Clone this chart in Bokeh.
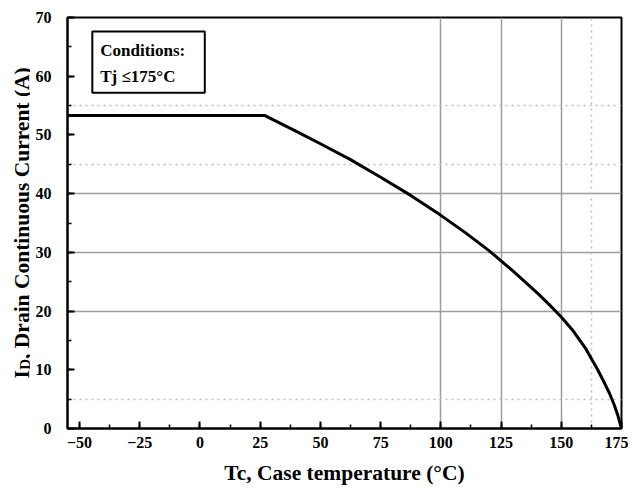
import math
from bokeh.plotting import figure
from bokeh.layouts import row
from bokeh.models import Range1d, SingleIntervalTicker, FixedTicker, Grid, Label, BoxAnnotation
from bokeh.embed import file_html
from bokeh.resources import INLINE

# Data
temp_c = [-55, 27, 40, 50, 62.5, 75, 87.5, 100, 110, 120, 130, 140, 145, 150,
          155, 160, 165, 168, 170, 172, 173.5, 175]
drain_current_a = [53.3, 53.3, 50.6, 48.5, 45.8, 42.8, 39.7, 36.3, 33.4, 30.3, 26.8, 23.1, 21.1, 19.0,
                   16.6, 13.7, 10.1, 7.7, 6.0, 4.0, 2.2, 0.0]

grid_solid_x = [100, 125, 150]
grid_dot_x = [162.5]
grid_solid_y = [20, 30, 40]
grid_dot_y = [5, 45, 55]

x_label = "Tc, Case temperature (\u00b0C)"
y_label_main = "I"
y_label_sub = "D"
y_label_rest = ", Drain Continuous Current (A)"
cond_line1 = "Conditions:"
cond_line2 = "Tj \u2264175\u00b0C"

FONT = "Liberation Serif"
H = 487

p = figure(width=598, height=H, output_backend="svg", toolbar_location=None,
           x_range=Range1d(-55, 175), y_range=Range1d(0, 70),
           min_border_left=37, min_border_right=7, min_border_top=17, min_border_bottom=59)
p.background_fill_color = "white"
p.border_fill_color = "white"
p.outline_line_color = "black"
p.outline_line_width = 2

for ax, interval, standoff in ((p.xaxis[0], 25, 8), (p.yaxis[0], 10, 16)):
    ax.ticker = SingleIntervalTicker(interval=interval, num_minor_ticks=2)
    ax.axis_line_color = "black"
    ax.axis_line_width = 2
    ax.major_tick_in = 7
    ax.major_tick_out = 0
    ax.minor_tick_in = 4
    ax.minor_tick_out = 0
    ax.major_tick_line_color = "black"
    ax.major_tick_line_width = 2
    ax.minor_tick_line_color = "black"
    ax.minor_tick_line_width = 1.5
    ax.major_label_text_font = FONT
    ax.major_label_text_font_style = "bold"
    ax.major_label_text_font_size = "16px"
    ax.major_label_text_color = "black"
    ax.major_label_standoff = standoff

p.yaxis[0].axis_label = None
xa = p.xaxis[0]
xa.axis_label = x_label
xa.axis_label_text_font = FONT
xa.axis_label_text_font_style = "bold"
xa.axis_label_text_font_size = "21.5px"
xa.axis_label_text_color = "black"
xa.axis_label_standoff = 10

p.xgrid.ticker = FixedTicker(ticks=grid_solid_x)
p.ygrid.ticker = FixedTicker(ticks=grid_solid_y)
for g in (p.xgrid[0], p.ygrid[0]):
    g.grid_line_color = "#9c9c9c"
    g.grid_line_width = 1.5

p.add_layout(Grid(dimension=0, ticker=FixedTicker(ticks=grid_dot_x),
                  grid_line_color="#bdbdbd", grid_line_dash="dotted", grid_line_width=1.5))
p.add_layout(Grid(dimension=1, ticker=FixedTicker(ticks=grid_dot_y),
                  grid_line_color="#bdbdbd", grid_line_dash="dotted", grid_line_width=1.5))

p.line(temp_c, drain_current_a, line_color="black", line_width=3, line_join="round")

# Conditions box
p.add_layout(BoxAnnotation(left=-44.7, right=2.0, top=67.6, bottom=57.2,
                           fill_alpha=0, line_color="black", line_alpha=1.0, line_width=2))
for yy, txt in ((64.4, cond_line1), (60.0, cond_line2)):
    p.add_layout(Label(x=-41.4, y=yy, text=txt, text_font=FONT, text_font_style="bold",
                       text_font_size="17px", text_color="black",
                       text_baseline="middle", text_align="left"))

# Narrow side figure (shares the y range, so its frame lines up) carrying the
# rotated y-axis title with its subscript
lab = figure(width=30, height=H, output_backend="svg", toolbar_location=None,
             x_range=Range1d(0, 30), y_range=p.y_range,
             x_axis_location=None, y_axis_location=None, min_border=0)
lab.outline_line_color = None
lab.grid.visible = False
lab.background_fill_color = "white"
lab.border_fill_color = "white"

lab.add_layout(Label(x=21, y=8.5, text=y_label_main, angle=math.pi / 2, text_font=FONT,
                     text_font_style="bold", text_font_size="21.5px", text_color="black",
                     text_baseline="alphabetic", text_align="left"))
lab.add_layout(Label(x=24.5, y=10.0, text=y_label_sub, angle=math.pi / 2, text_font=FONT,
                     text_font_style="bold", text_font_size="15px", text_color="black",
                     text_baseline="alphabetic", text_align="left"))
lab.add_layout(Label(x=21, y=11.85, text=y_label_rest, angle=math.pi / 2, text_font=FONT,
                     text_font_style="bold", text_font_size="21.5px", text_color="black",
                     text_baseline="alphabetic", text_align="left"))

layout = row(lab, p)
open("out.html", "w").write(file_html(layout, INLINE))
